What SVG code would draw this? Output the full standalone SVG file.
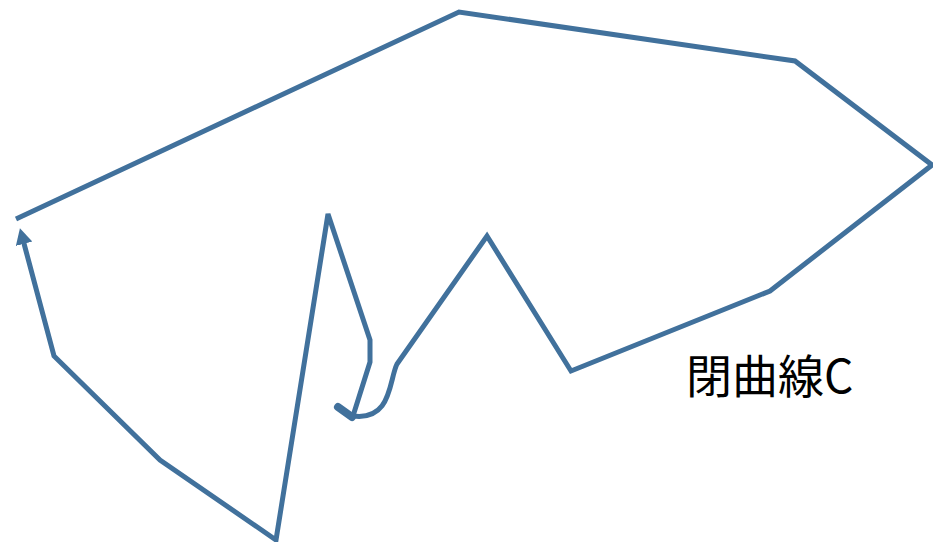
<svg xmlns="http://www.w3.org/2000/svg" width="933" height="542" viewBox="0 0 933 542">
<defs>
<style>
.c{fill:none;stroke:#41719C;stroke-width:5;stroke-linejoin:miter;}
.lbl{font-family:"Noto Sans CJK JP","Noto Sans",sans-serif;font-size:46px;fill:#000;}
</style>
<marker id="ah" markerUnits="userSpaceOnUse" markerWidth="18" markerHeight="18" viewBox="0 0 18 18" refX="8" refY="9" orient="auto">
<path d="M0,0.5 L16,9 L0,17.5 Z" fill="#41719C"/>
</marker>
</defs>
<g id="connectors">
<path class="c" d="M16,219 L459,12 L795,61 L932,165 L770,291 L571,371 L487,236 L397,364 C389,380 392,421 353,416"/>
<path class="c" d="M353,416 L370,362 L370,340 L328,214 L276,540 L160,460 L54,356 L22,236" marker-end="url(#ah)"/>
<path d="M352,417 L338,407" stroke="#41719C" stroke-width="8" stroke-linecap="round" fill="none"/>
</g>
<g id="label">
<text class="lbl" x="686" y="393">閉曲線C</text>
</g>
</svg>
